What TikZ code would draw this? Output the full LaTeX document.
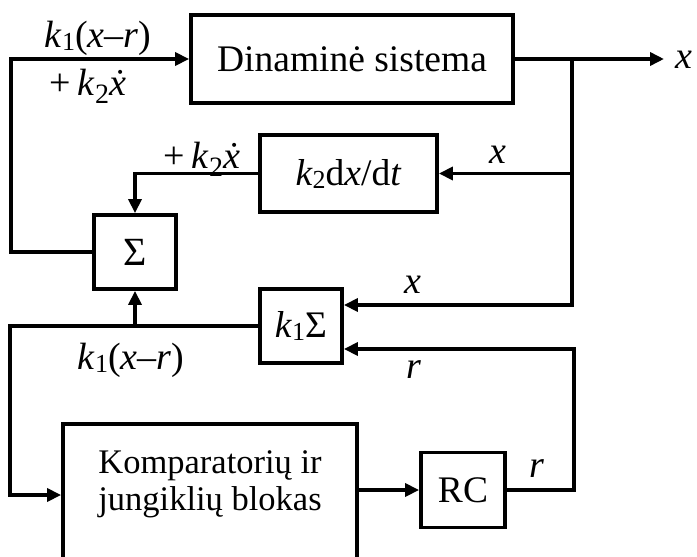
\documentclass[tikz,border=0pt]{standalone}
\usepackage{fontspec}
\setmainfont{Liberation Serif}
\usetikzlibrary{arrows.meta}
\newcommand\lsub[2]{\raisebox{-#1}{\fontsize{26}{26}\selectfont #2}}
\newcommand\bsub[1]{\raisebox{-8pt}{\fontsize{28}{28}\selectfont #1}}
\tikzset{
  blk/.style={draw, line width=3.8pt, rectangle, inner sep=0pt, font=\fontsize{37.5}{40}\selectfont},
  conn/.style={line width=3.8pt},
  arr/.style={conn, -{Triangle[length=14pt,width=13pt]}},
  lbl/.style={font=\fontsize{38}{40}\selectfont, inner sep=0pt}
}
\begin{document}
\begin{tikzpicture}[x=1pt,y=-1pt]
\useasboundingbox (0,0) rectangle (697,557);
\clip (0,0) rectangle (697,557);
% blocks
\node[blk, minimum width=322pt, minimum height=88pt] (dyn) at (352,59) {Dinaminė sistema};
\node[blk, minimum width=177pt, minimum height=77pt] (k2) at (348.5,173.5) {\textit{k}\lsub{3pt}{2}d\textit{x}/d\textit{t}};
\node[blk, minimum width=82pt, minimum height=74pt, font=\fontsize{40}{40}\selectfont] (sum) at (135,252) {Σ};
\node[blk, minimum width=82pt, minimum height=74pt] (k1s) at (301,326) {\textit{k}\lsub{3pt}{1}Σ};
\node[blk, minimum width=84pt, minimum height=75pt] (rc) at (463,490) {RC};
\node[blk, minimum width=294pt, minimum height=144pt, font=\fontsize{34.5}{37}\selectfont] (komp) at (210,496) {\raisebox{11pt}[\height][\depth]{\begin{tabular}{@{}c@{}}Komparatorių ir\\jungiklių blokas\end{tabular}}};
% free ends
\coordinate (br) at (572,59);
\coordinate (out) at (664,59);
\coordinate (k1sx) at ([yshift=21pt]k1s.east);
\coordinate (k1sr) at ([yshift=-23pt]k1s.east);
% connectors
\draw[arr] (sum.west) -- ++(-81,0) |- (dyn.west);
\draw[arr] (dyn.east) -- (out);
\draw[arr] (br) |- (k1sx);
\draw[arr] (br |- k2.east) -- (k2.east);
\draw[arr] (k2.west) -| (sum.north);
\draw[arr] (k1s.west) -- ++(-248,0) |- ([yshift=1pt]komp.west);
\draw[arr] (sum.south |- k1s.west) -- (sum.south);
\draw[arr] (komp.east |- rc.west) -- (rc.west);
\draw[arr] (rc.east) -- ++(67,0) |- (k1sr);
% labels
\node[lbl] (l1) at (98,38) {\textit{k}\lsub{3pt}{1}(\textit{x}–\textit{r})};
\node[lbl] (l2) at (88,86) {+\,\textit{k}\bsub{2}\textit{\.{x}}};
\node[lbl] (l3) at (202,159) {+\,\textit{k}\bsub{2}\textit{\.{x}}};
\node[lbl] (l4) at (498,155) {\textit{x}};
\node[lbl] (l5) at (413,285) {\textit{x}};
\node[lbl] (l6) at (131,360) {\textit{k}\lsub{3pt}{1}(\textit{x}–\textit{r})};
\node[lbl] (l7) at (414,370) {\textit{r}};
\node[lbl] (l8) at (537,469) {\textit{r}};
\node[lbl] (l9) at (684,60) {\textit{x}};
\end{tikzpicture}
\end{document}
